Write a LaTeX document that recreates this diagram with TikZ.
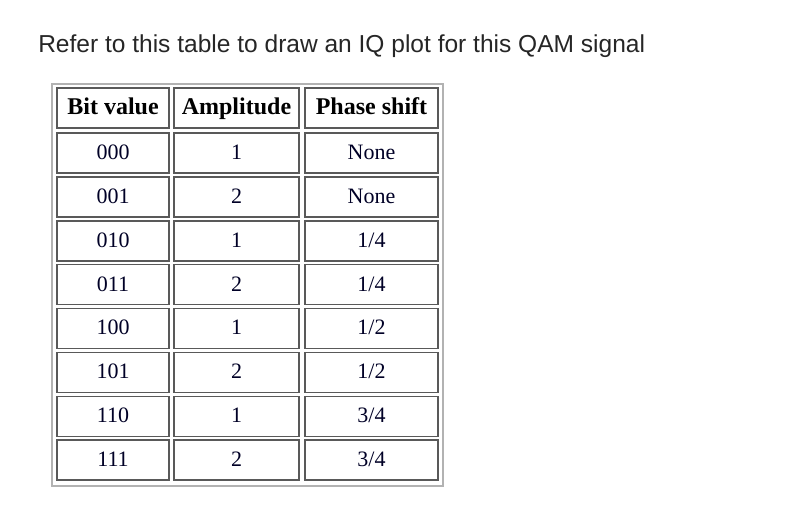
\documentclass[tikz,border=0pt]{standalone}
\usepackage{fontspec}
\setmainfont{Liberation Serif}
\newfontfamily\titlefont{Liberation Sans}
\begin{document}
\begin{tikzpicture}[
  x=0.75pt, y=-0.75pt,
  cellbox/.style={draw=black!65, line width=1.2pt, fill=white, inner sep=0pt},
  outerbox/.style={draw=black!30, line width=2pt},
  celltext/.style={font=\fontsize{16.5}{18}\selectfont, text=black!85!blue, text height=11pt, text depth=3pt},
  headtext/.style={font=\fontsize{18}{20}\selectfont\bfseries, text height=12pt, text depth=3pt}
]
\useasboundingbox (0,0) rectangle (808,523);

% Title
\node[anchor=base west, inner sep=0pt, font=\titlefont\fontsize{18.4}{21}\selectfont, text=black!85]
  (title) at (38,53) {Refer to this table to draw an IQ plot for this QAM signal};

% Outer frame
\draw[outerbox] (52,84) rectangle (443,486);

% Header
\draw[cellbox] (57,88) rectangle (169,128);
\draw[cellbox] (174,88) rectangle (299,128);
\draw[cellbox] (305,88) rectangle (438,128);
\node[headtext] (hbit) at (113,109) {Bit value};
\node[headtext] (hamp) at (236.5,109) {Amplitude};
\node[headtext] (hphase) at (371.5,109) {Phase shift};

% Rows
\foreach \bits/\amp/\phase [count=\i from 0] in
  {000/1/None, 001/2/None, 010/1/1\slash4, 011/2/1\slash4,
   100/1/1\slash2, 101/2/1\slash2, 110/1/3\slash4, 111/2/3\slash4}{
  \pgfmathsetmacro{\top}{133+43.9*\i}
  \pgfmathsetmacro{\bot}{\top+40}
  \pgfmathsetmacro{\mid}{\top+21}
  \draw[cellbox] (57,\top) rectangle (169,\bot);
  \draw[cellbox] (174,\top) rectangle (299,\bot);
  \draw[cellbox] (305,\top) rectangle (438,\bot);
  \node[celltext] (bit\i) at (113,\mid) {\bits};
  \node[celltext] (amp\i) at (236.5,\mid) {\amp};
  \node[celltext] (phase\i) at (371.5,\mid) {\phase};
}
\end{tikzpicture}
\end{document}
